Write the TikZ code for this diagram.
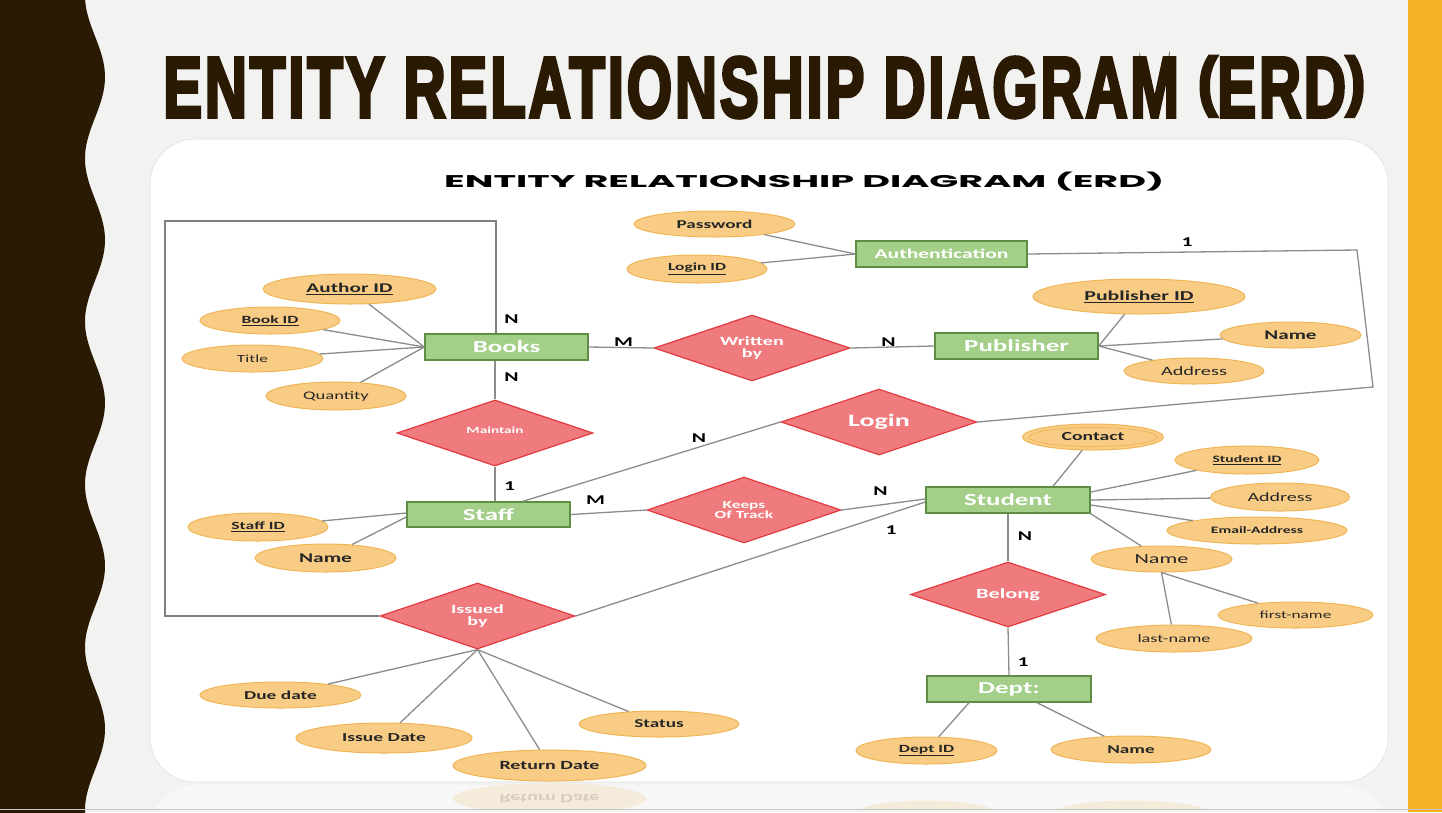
\documentclass[tikz,border=0pt]{standalone}
\usepackage{fontspec}
\usepackage{graphicx}
\usetikzlibrary{shapes.geometric}
\newfontfamily\erf{Carlito}[FakeStretch=1.6]
\newfontfamily\bigt{Liberation Sans}[LetterSpace=5, BoldFeatures={FakeBold=4.5}]
\newfontfamily\gothic{Poppins}
\definecolor{band}{HTML}{2A1A03}
\definecolor{bg}{HTML}{F2F2F1}
\definecolor{gold}{HTML}{F5B126}
\definecolor{attrfill}{HTML}{F8CC85}
\definecolor{attrdraw}{HTML}{F0B656}
\definecolor{attrtext}{HTML}{262626}
\definecolor{relfill}{HTML}{EF7B7E}
\definecolor{reldraw}{HTML}{E23C40}
\definecolor{entfill}{HTML}{A3CF88}
\definecolor{entdraw}{HTML}{5E8E44}
\definecolor{conn}{HTML}{8C8C8C}
\definecolor{framec}{HTML}{7F7F7F}
\definecolor{refl}{HTML}{F7F7F7}
\definecolor{reflattr}{HTML}{F5EBDA}
\definecolor{refltext}{HTML}{D8CCBA}
\newcommand\afb[1]{\erf\bfseries\fontsize{#1}{#1}\selectfont}
\newcommand\afr[1]{\erf\fontsize{#1}{#1}\selectfont}
\newcommand\tp[1]{\raisebox{0.161em}{\scalebox{1}[0.76]{#1}}}
\tikzset{
  ent/.style={rectangle, draw=entdraw, fill=entfill, line width=1.4pt, inner sep=0pt,
    text=white, font={\afb{16.8}}},
  rel/.style={diamond, aspect=3, draw=reldraw, fill=relfill, line width=1.2pt, inner sep=0pt,
    minimum width=196pt, minimum height=66pt, text=white, align=center},
  attr/.style={ellipse, draw=attrdraw, fill=attrfill, line width=1pt, inner sep=0pt, text=attrtext},
  conn/.style={draw=conn, line width=1.3pt},
  framel/.style={draw=framec, line width=1.4pt},
  card/.style={font={\afb{13.5}}, text=black, inner sep=0pt}
}
\begin{document}
\begin{tikzpicture}[x=1pt,y=-1pt]
\useasboundingbox (0,0) rectangle (1442,812);
\fill[bg] (0,0) rectangle (1442,812);
% left wavy band
\fill[band] (0,-1) -- plot[domain=-1:813,samples=300,variable=\t] ({95+10*cos(2.2086*(\t-77))},\t) -- (0,813) -- cycle;
% right gold band
\fill[gold] (1408,0) rectangle (1442,812);
% big title
\node[anchor=base west, inner sep=0pt, text=band] (bigtitle) at (163,117)
  {\resizebox{1202pt}{61pt}{\bigt\bfseries ENTITY RELATIONSHIP DIAGRAM \tp{(}ERD\tp{)}}};
% white panel
\fill[white, draw=black!12, line width=0.6pt, rounded corners=45pt] (150,139) rectangle (1388,782);
% reflection
\begin{scope}
\clip (0,783) rectangle (1442,809);
\fill[refl, rounded corners=45pt] (150,785) rectangle (1388,900);
\node[ellipse, fill=reflattr, minimum width=193pt, minimum height=31pt, inner sep=0pt, text=refltext, font={\afb{12.5}}] (rreturn) at (549.5,798.5) {\scalebox{1}[-1]{Return Date}};
\node[ellipse, fill=reflattr, minimum width=141pt, minimum height=27pt, inner sep=0pt] (rdeptid) at (926.5,814) {};
\node[ellipse, fill=reflattr, minimum width=160pt, minimum height=27pt, inner sep=0pt] (rdeptname) at (1131,814) {};
\end{scope}
\draw[black!22, line width=1pt] (0,809.5) -- (1442,809.5);
% inner title
\node[anchor=base west, inner sep=0pt, text=black] (subtitle) at (444,187)
  {\resizebox{720pt}{15.5pt}{\gothic\bfseries ENTITY RELATIONSHIP DIAGRAM (ERD)}};

% entities
\node[ent, minimum width=163pt, minimum height=26pt] (books) at (506.5,347) {Books};
\node[ent, minimum width=171pt, minimum height=26pt, font={\afb{13.5}}] (auth) at (941.5,254) {Authentication};
\node[ent, minimum width=163pt, minimum height=26pt] (publisher) at (1016.5,346) {Publisher};
\node[ent, minimum width=163pt, minimum height=25pt] (staff) at (488.5,514.5) {Staff};
\node[ent, minimum width=164pt, minimum height=26pt] (student) at (1008,500) {Student};
\node[ent, minimum width=164pt, minimum height=26pt] (dept) at (1009,689) {Dept:};

% relationships
\node[rel, font={\afb{12.6}}] (written) at (752,348) {Written\\by};
\node[rel, font={\afb{9.5}}] (maintain) at (495,433) {\raisebox{6pt}{Maintain}};
\node[rel, font={\afb{17.5}}] (login) at (879,422) {Login};
\node[rel, minimum width=194pt, font={\afb{10.8}}] (keeps) at (744,510) {Keeps\\Of Track};
\node[rel, minimum width=195pt, minimum height=65pt, font={\afb{14}}] (belong) at (1008,594.5) {Belong};
\node[rel, minimum width=195pt, font={\afb{12.5}}] (issued) at (477.5,616) {Issued\\by};

% attributes
\node[attr, minimum width=173pt, minimum height=30pt, font={\afb{13.3}}] (authorid) at (349.5,289) {\underline{Author ID}};
\node[attr, minimum width=140pt, minimum height=27pt, font={\afb{11}}] (bookid) at (270,320.5) {\underline{Book ID}};
\node[attr, minimum width=141pt, minimum height=27pt, font={\afr{10.9}}] (title) at (252.5,358.5) {Title};
\node[attr, minimum width=140pt, minimum height=28pt, font={\afr{11.6}}] (quantity) at (336,396) {Quantity};
\node[attr, minimum width=161pt, minimum height=26pt, font={\afb{12}}] (password) at (714.5,224) {Password};
\node[attr, minimum width=140pt, minimum height=28pt, font={\afb{10.9}}] (loginid) at (697,269) {\underline{Login ID}};
\node[attr, minimum width=212pt, minimum height=35pt, font={\afb{13.6}}] (pubid) at (1139,296.5) {\underline{Publisher ID}};
\node[attr, minimum width=141pt, minimum height=26pt, font={\afb{13.2}}] (pubname) at (1290.5,335) {Name};
\node[attr, minimum width=140pt, minimum height=26pt, font={\afr{12.7}}] (pubaddr) at (1194,371) {Address};
\node[attr, minimum width=141pt, minimum height=26pt, font={\afb{12.3}}] (contact) at (1093,437) {Contact};
\draw[attrdraw, line width=0.8pt] (contact.center) ellipse [x radius=64pt, y radius=9.5pt];
\node[attr, minimum width=144pt, minimum height=28pt, font={\afb{9.8}}] (studid) at (1247,460) {\underline{Student ID}};
\node[attr, minimum width=139pt, minimum height=28pt, font={\afr{12.5}}] (studaddr) at (1280,497) {Address};
\node[attr, minimum width=180pt, minimum height=27pt, font={\afb{9.8}}] (email) at (1257,530.5) {Email-Address};
\node[attr, minimum width=141pt, minimum height=26pt, font={\afr{13.9}}] (studname) at (1161.5,559) {Name};
\node[attr, minimum width=155pt, minimum height=26pt, font={\afr{10.8}}] (firstname) at (1295.5,615) {first-name};
\node[attr, minimum width=156pt, minimum height=27pt, font={\afr{11.4}}] (lastname) at (1174,638.5) {last-name};
\node[attr, minimum width=140pt, minimum height=28pt, font={\afb{11}}] (staffid) at (258,527) {\underline{Staff ID}};
\node[attr, minimum width=141pt, minimum height=28pt, font={\afb{13.4}}] (staffname) at (325.5,558) {Name};
\node[attr, minimum width=161pt, minimum height=26pt, font={\afb{12.1}}] (duedate) at (280.5,695) {Due date};
\node[attr, minimum width=176pt, minimum height=30pt, font={\afb{12.2}}] (issuedate) at (384,738) {Issue Date};
\node[attr, minimum width=193pt, minimum height=31pt, font={\afb{12.5}}] (returndate) at (549.5,765.5) {Return Date};
\node[attr, minimum width=160pt, minimum height=26pt, font={\afb{12}}] (status) at (659,724) {Status};
\node[attr, minimum width=141pt, minimum height=27pt, font={\afb{11}}] (deptid) at (926.5,750.5) {\underline{Dept ID}};
\node[attr, minimum width=160pt, minimum height=27pt, font={\afb{12}}] (deptname) at (1131,749.5) {Name};

% free-end coordinates
\coordinate (f1) at (496,221);
\coordinate (f2) at (165,221);
\coordinate (f3) at (165,616);
\coordinate (a1) at (1357,250);
\coordinate (a2) at (1373,387);

% connectors
\draw[conn] (authorid) -- (books.west);
\draw[conn] (bookid) -- (books.west);
\draw[conn] (title) -- (books.west);
\draw[conn] (quantity) -- (books.west);
\draw[framel] (books.north -| f1) -- (f1) -- (f2) -- (f3) -- (issued.west);
\draw[conn] (maintain.north |- books.south) -- (maintain.north);
\draw[conn] (maintain.south) -- (maintain.south |- staff.north);
\draw[conn] (books.east) -- (written.west);
\draw[conn] (written.east) -- (publisher.west);
\draw[conn] (pubid) -- (publisher.east);
\draw[conn] (pubname) -- (publisher.east);
\draw[conn] (pubaddr) -- (publisher.east);
\draw[conn] (password) -- (auth.west);
\draw[conn] (loginid) -- (auth.west);
\draw[conn] (auth.east) -- (a1) -- (a2) -- (login.east);
\draw[conn] (login.west) -- ([xshift=34.5pt]staff.north);
\draw[conn] (staffid) -- ([yshift=1.5pt]staff.west);
\draw[conn] (staffname) -- ([yshift=-2.5pt]staff.west);
\draw[conn] (staff.east) -- (keeps.west);
\draw[conn] (keeps.east) -- ([yshift=1pt]student.west);
\draw[conn] (issued.east) -- ([yshift=-2pt]student.west);
\draw[conn] (contact) -- ([xshift=45pt]student.north);
\draw[conn] (studid) -- ([yshift=8pt]student.east);
\draw[conn] (studaddr) -- (student.east);
\draw[conn] (email) -- ([yshift=-5pt]student.east);
\draw[conn] (studname) -- (student.south east);
\draw[conn] (studname.south) -- (firstname);
\draw[conn] (studname.south) -- (lastname);
\draw[conn] (student.south) -- (belong.north);
\draw[conn] (belong.south) -- (dept.north);
\draw[conn] ([xshift=-40pt]dept.south) -- (deptid);
\draw[conn] ([xshift=28pt]dept.south) -- (deptname);
\draw[conn] (issued.south) -- (duedate);
\draw[conn] (issued.south) -- (issuedate);
\draw[conn] (issued.south) -- (returndate);
\draw[conn] (issued.south) -- (status);

% cardinalities
\node[card] (c1) at (511.5,319) {N};
\node[card] (c2) at (511.5,377.5) {N};
\node[card] (c3) at (623.5,342) {M};
\node[card] (c4) at (888.5,342.5) {N};
\node[card] (c5) at (1187,242) {1};
\node[card] (c6) at (699,438) {N};
\node[card] (c7) at (509.5,486) {1};
\node[card] (c8) at (595.5,500.5) {M};
\node[card] (c9) at (880.5,491) {N};
\node[card] (c10) at (891,530) {1};
\node[card] (c11) at (1025,536) {N};
\node[card] (c12) at (1023,662) {1};
\end{tikzpicture}
\end{document}
